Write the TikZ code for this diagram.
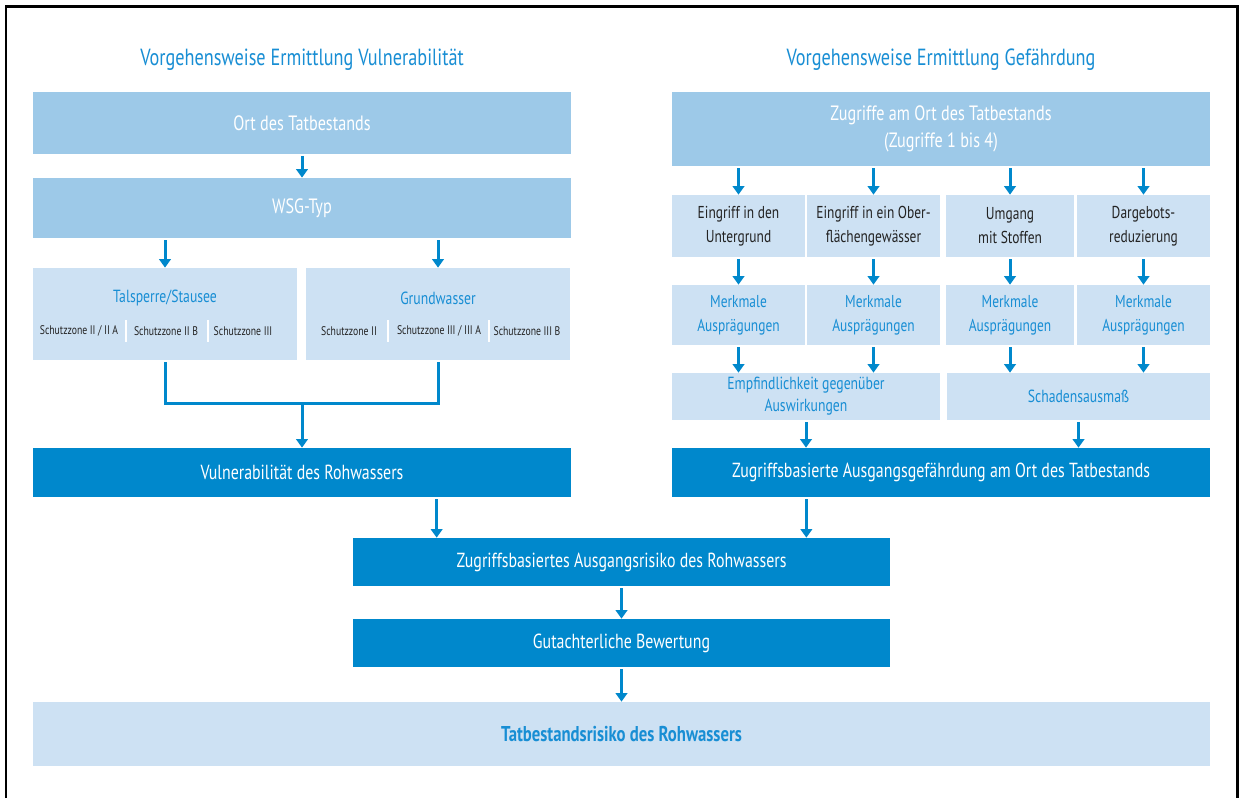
\documentclass[tikz,border=0pt]{standalone}
\usepackage{fontspec}
\setmainfont{PT Sans}[FakeStretch=0.78]
\usetikzlibrary{arrows.meta, calc}
\definecolor{DeepBlue}{RGB}{0, 136, 204}
\definecolor{MidBlue}{RGB}{157, 201, 232}
\definecolor{PaleBlue}{RGB}{205, 225, 243}
\definecolor{HeadBlue}{RGB}{24, 142, 212}
\definecolor{InkGray}{RGB}{35, 35, 35}

\begin{document}
\begin{tikzpicture}[x=0.02cm, y=-0.02cm,
    heading/.style={font=\fontsize{13.3}{16}\selectfont, text=HeadBlue},
    midbox/.style={rectangle, fill=MidBlue, text=white, inner sep=0pt, align=center, font=\fontsize{11.8}{15.4}\selectfont},
    palebox/.style={rectangle, fill=PaleBlue, inner sep=0pt, align=center, font=\fontsize{9.8}{13.6}\selectfont},
    darkbox/.style={rectangle, fill=DeepBlue, text=white, inner sep=0pt, align=center, font=\fontsize{11.6}{14}\selectfont},
    zone/.style={font=\fontsize{7.1}{8}\selectfont, text=InkGray, inner sep=0pt},
    sep/.style={draw=white, line width=1pt},
    arrow/.style={draw=DeepBlue, line width=0.06cm, -{Triangle[width=0.23cm, length=0.17cm]}, shorten <=0.04cm}
]
    \useasboundingbox (0,0) rectangle (1243,798);
    \fill[white] (0,0) rectangle (1243,798);
    \draw[line width=0.06cm] (6,798) -- (6,6) -- (1237,6) -- (1237,798);

    % left column: vulnerability
    \node[heading] (headL) at (302,60) {Vorgehensweise Ermittlung Vulnerabilität};
    \node[midbox, minimum width=10.76cm, minimum height=1.24cm] (ort) at (302,123) {Ort des Tatbestands};
    \node[midbox, minimum width=10.76cm, minimum height=1.2cm] (wsg) at (302,208) {WSG-Typ};
    \node[palebox, minimum width=5.28cm, minimum height=1.84cm] (tal) at (165,314) {};
    \node[palebox, minimum width=5.28cm, minimum height=1.84cm] (grund) at (438,314) {};
    \node[font=\fontsize{10}{12}\selectfont, text=HeadBlue] (talT) at (165,298) {Talsperre/Stausee};
    \node[font=\fontsize{10}{12}\selectfont, text=HeadBlue] (grundT) at (438,298) {Grundwasser};
    \node[zone] (tz1) at (79,331) {Schutzzone II / II A};
    \node[zone] (tz2) at (166,331) {Schutzzone II B};
    \node[zone] (tz3) at (243,331) {Schutzzone III};
    \node[zone] (gz1) at (349,331) {Schutzzone II};
    \node[zone] (gz2) at (439,331) {Schutzzone III / III A};
    \node[zone] (gz3) at (527,331) {Schutzzone III B};
    \draw[sep] (126,320) -- (126,342);
    \draw[sep] (208,320) -- (208,342);
    \draw[sep] (388,320) -- (388,342);
    \draw[sep] (489,320) -- (489,342);
    \node[darkbox, minimum width=10.76cm, minimum height=0.98cm] (vul) at (302,472.5) {Vulnerabilität des Rohwassers};

    % right column: hazard
    \node[heading] (headR) at (941,60) {Vorgehensweise Ermittlung Gefährdung};
    \node[midbox, minimum width=10.76cm, minimum height=1.48cm] (zug) at (941,129) {Zugriffe am Ort des Tatbestands\\(Zugriffe 1 bis 4)};
    \node[palebox, text=InkGray, minimum width=2.66cm, minimum height=1.24cm] (e1) at (738.5,226) {Eingriff in den\\Untergrund};
    \node[palebox, text=InkGray, minimum width=2.66cm, minimum height=1.24cm] (e2) at (873.5,226) {Eingriff in ein Ober-\\flächengewässer};
    \node[palebox, text=InkGray, minimum width=2.56cm, minimum height=1.24cm] (e3) at (1010,226) {Umgang\\mit Stoffen};
    \node[palebox, text=InkGray, minimum width=2.66cm, minimum height=1.24cm] (e4) at (1143.5,226) {Dargebots-\\reduzierung};
    \node[palebox, text=HeadBlue, minimum width=2.66cm, minimum height=1.2cm] (m1) at (738.5,315) {Merkmale\\Ausprägungen};
    \node[palebox, text=HeadBlue, minimum width=2.66cm, minimum height=1.2cm] (m2) at (873.5,315) {Merkmale\\Ausprägungen};
    \node[palebox, text=HeadBlue, minimum width=2.56cm, minimum height=1.2cm] (m3) at (1010,315) {Merkmale\\Ausprägungen};
    \node[palebox, text=HeadBlue, minimum width=2.66cm, minimum height=1.2cm] (m4) at (1143.5,315) {Merkmale\\Ausprägungen};
    \node[palebox, text=HeadBlue, font=\fontsize{10}{12.5}\selectfont, minimum width=5.36cm, minimum height=0.94cm] (emp) at (806,396.5) {Empfindlichkeit gegenüber\\Auswirkungen};
    \node[palebox, text=HeadBlue, font=\fontsize{10}{12.5}\selectfont, minimum width=5.26cm, minimum height=0.94cm] (sch) at (1078.5,396.5) {Schadensausmaß};
    \node[darkbox, minimum width=10.76cm, minimum height=0.98cm] (gef) at (941,472.5) {Zugriffsbasierte Ausgangsgefährdung am Ort des Tatbestands};

    % joint result
    \node[darkbox, minimum width=10.74cm, minimum height=0.96cm] (risk) at (621.5,562) {Zugriffsbasiertes Ausgangsrisiko des Rohwassers};
    \node[darkbox, minimum width=10.74cm, minimum height=0.96cm] (gut) at (621.5,643) {Gutachterliche Bewertung};
    \node[palebox, text=HeadBlue, font=\bfseries\fontsize{12.2}{14}\selectfont, minimum width=23.54cm, minimum height=1.28cm] (tat) at (621.5,734) {Tatbestandsrisiko des Rohwassers};

    % connectors
    \draw[arrow] (ort) -- (wsg);
    \draw[arrow] (wsg.south -| tal) -- (tal);
    \draw[arrow] (wsg.south -| grund) -- (grund);
    \draw[draw=DeepBlue, line width=0.06cm] ([yshift=-0.04cm]tal.south) |- (302,403) -| ([yshift=-0.04cm]grund.south);
    \coordinate (join) at (302,403);
    \draw[arrow, shorten <=0pt] (join) -- (vul);

    \foreach \n in {e1,e2,e3,e4}
        \draw[arrow] (zug.south -| \n) -- (\n);
    \draw[arrow] (e1) -- (m1);
    \draw[arrow] (e2) -- (m2);
    \draw[arrow] (e3) -- (m3);
    \draw[arrow] (e4) -- (m4);
    \draw[arrow] (m1) -- (m1 |- emp.north);
    \draw[arrow] (m2) -- (m2 |- emp.north);
    \draw[arrow] (m3) -- (m3 |- sch.north);
    \draw[arrow] (m4) -- (m4 |- sch.north);
    \draw[arrow] (emp) -- (emp |- gef.north);
    \draw[arrow] (sch) -- (sch |- gef.north);

    \draw[arrow] ($(vul.south west)!.75!(vul.south east)$) coordinate (v1) -- (v1 |- risk.north);
    \draw[arrow] ($(gef.south west)!.25!(gef.south east)$) coordinate (g1) -- (g1 |- risk.north);
    \draw[arrow] (risk) -- (gut);
    \draw[arrow] (gut) -- (tat);
\end{tikzpicture}
\end{document}
